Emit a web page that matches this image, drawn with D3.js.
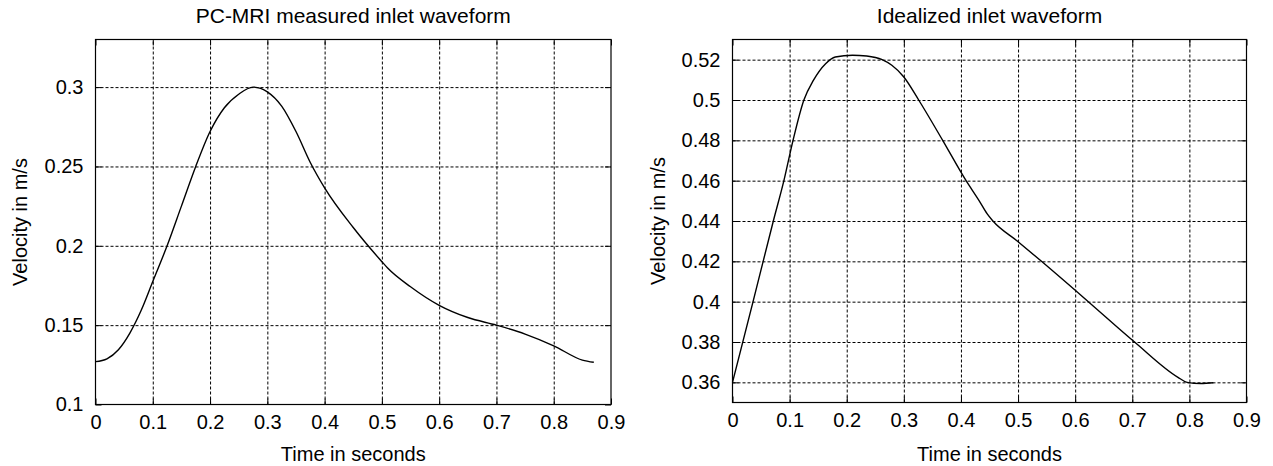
<!DOCTYPE html>
<html>
<head>
<meta charset="utf-8">
<script src="https://cdn.jsdelivr.net/npm/d3@7"></script>
<style>
  html, body { margin: 0; padding: 0; background: #fff; }
  svg { display: block; font-family: "Liberation Sans", Arial, Helvetica, sans-serif; }
</style>
</head>
<body>
<svg id="chart" width="1273" height="466"></svg>
<script>
// ---- Data ----
const xTicks = [0, 0.1, 0.2, 0.3, 0.4, 0.5, 0.6, 0.7, 0.8, 0.9];

// Left panel: PC-MRI measured inlet waveform
const measuredTime = [0, 0.02, 0.04, 0.06, 0.08, 0.1, 0.125, 0.15, 0.175, 0.2, 0.225, 0.25, 0.275, 0.3, 0.325, 0.35, 0.375, 0.4, 0.45, 0.5, 0.51, 0.55, 0.6, 0.65, 0.7, 0.75, 0.8, 0.85, 0.87];
const measuredVelocity = [0.127, 0.1288, 0.1345, 0.145, 0.1595, 0.1775, 0.2, 0.225, 0.25, 0.272, 0.287, 0.2955, 0.300, 0.297, 0.288, 0.272, 0.2525, 0.2365, 0.2115, 0.19, 0.186, 0.1742, 0.1625, 0.1548, 0.150, 0.1444, 0.137, 0.128, 0.1266];
const measuredYTicks = [0.1, 0.15, 0.2, 0.25, 0.3];

// Right panel: Idealized inlet waveform
const idealTime = [0, 0.036, 0.0715, 0.09, 0.106, 0.125, 0.1416, 0.163, 0.18, 0.21, 0.235, 0.262, 0.279, 0.3, 0.326, 0.368, 0.409, 0.432, 0.446, 0.456, 0.499, 0.541, 0.623, 0.704, 0.78, 0.796, 0.82, 0.842];
const idealVelocity = [0.36, 0.40, 0.44, 0.46, 0.48, 0.50, 0.5097, 0.518, 0.5213, 0.5222, 0.5218, 0.520, 0.5172, 0.5114, 0.500, 0.48, 0.46, 0.450, 0.4435, 0.440, 0.430, 0.42, 0.40, 0.38, 0.3625, 0.3600, 0.3594, 0.3598];
const idealYTicks = [0.36, 0.38, 0.4, 0.42, 0.44, 0.46, 0.48, 0.5, 0.52];

const titles = ["PC-MRI measured inlet waveform", "Idealized inlet waveform"];
const xLabel = "Time in seconds";
const yLabel = "Velocity in m/s";

// ---- Layout ----
const panels = [
  { title: titles[0], t: measuredTime, v: measuredVelocity, yTicks: measuredYTicks,
    yDomain: [0.1, 0.33], left: 95.5, right: 611, top: 39.5, bottom: 404.5, yLabelX: 27 },
  { title: titles[1], t: idealTime, v: idealVelocity, yTicks: idealYTicks,
    yDomain: [0.35, 0.53], left: 732.5, right: 1246.5, top: 39.5, bottom: 402.5, yLabelX: 665 }
];

const svg = d3.select("#chart");
const fs = 20;
const titleFs = 21;

panels.forEach(p => {
  const x = d3.scaleLinear().domain([0, 0.9]).range([p.left, p.right]);
  const y = d3.scaleLinear().domain(p.yDomain).range([p.bottom, p.top]);
  const w = p.right - p.left, h = p.bottom - p.top;
  const g = svg.append("g");

  // grid (dotted)
  const gridX = g.append("g").attr("transform", `translate(0,${p.bottom})`)
    .call(d3.axisBottom(x).tickValues(xTicks.slice(1, -1)).tickSize(-h).tickFormat(""));
  const gridY = g.append("g").attr("transform", `translate(${p.left},0)`)
    .call(d3.axisLeft(y).tickValues(p.yTicks.filter(d => d > p.yDomain[0] + 1e-9)).tickSize(-w).tickFormat(""));
  [gridX, gridY].forEach(gg => {
    gg.select(".domain").remove();
    gg.selectAll("line").attr("stroke", "#000").attr("stroke-width", 1).attr("stroke-dasharray", "3,2");
  });

  // inward solid ticks on all four sides
  const tk = 6;
  const axB = g.append("g").attr("transform", `translate(0,${p.bottom})`)
    .call(d3.axisBottom(x).tickValues(xTicks).tickSize(-tk).tickPadding(10.5).tickFormat(d3.format("")));
  const axT = g.append("g").attr("transform", `translate(0,${p.top})`)
    .call(d3.axisTop(x).tickValues(xTicks).tickSize(-tk).tickFormat(""));
  const axL = g.append("g").attr("transform", `translate(${p.left},0)`)
    .call(d3.axisLeft(y).tickValues(p.yTicks).tickSize(-tk).tickPadding(12).tickFormat(d3.format("")));
  const axR = g.append("g").attr("transform", `translate(${p.right},0)`)
    .call(d3.axisRight(y).tickValues(p.yTicks).tickSize(-tk).tickFormat(""));
  [axB, axT, axL, axR].forEach(a => {
    a.select(".domain").remove();
    a.selectAll("line").attr("stroke", "#000").attr("stroke-width", 1);
    a.selectAll("text").attr("fill", "#000").style("font-size", fs + "px")
      .style("font-family", '"Liberation Sans", Arial, sans-serif');
  });

  // frame
  g.append("rect").attr("x", p.left).attr("y", p.top).attr("width", w).attr("height", h)
    .attr("fill", "none").attr("stroke", "#000").attr("stroke-width", 1.2);

  // curve
  const line = d3.line().x((d, i) => x(p.t[i])).y((d, i) => y(p.v[i])).curve(d3.curveMonotoneX);
  g.append("path").datum(p.v).attr("d", line)
    .attr("fill", "none").attr("stroke", "#000").attr("stroke-width", 1.4);

  // title and axis labels
  const cx = (p.left + p.right) / 2, cy = (p.top + p.bottom) / 2;
  g.append("text").attr("x", cx).attr("y", 23).attr("text-anchor", "middle")
    .style("font-size", titleFs + "px").text(p.title);
  g.append("text").attr("x", cx).attr("y", 461).attr("text-anchor", "middle")
    .style("font-size", fs + "px").text(xLabel);
  g.append("text").attr("transform", `translate(${p.yLabelX},${cy}) rotate(-90)`)
    .attr("text-anchor", "middle").style("font-size", fs + "px").text(yLabel);
});
</script>
</body>
</html>
